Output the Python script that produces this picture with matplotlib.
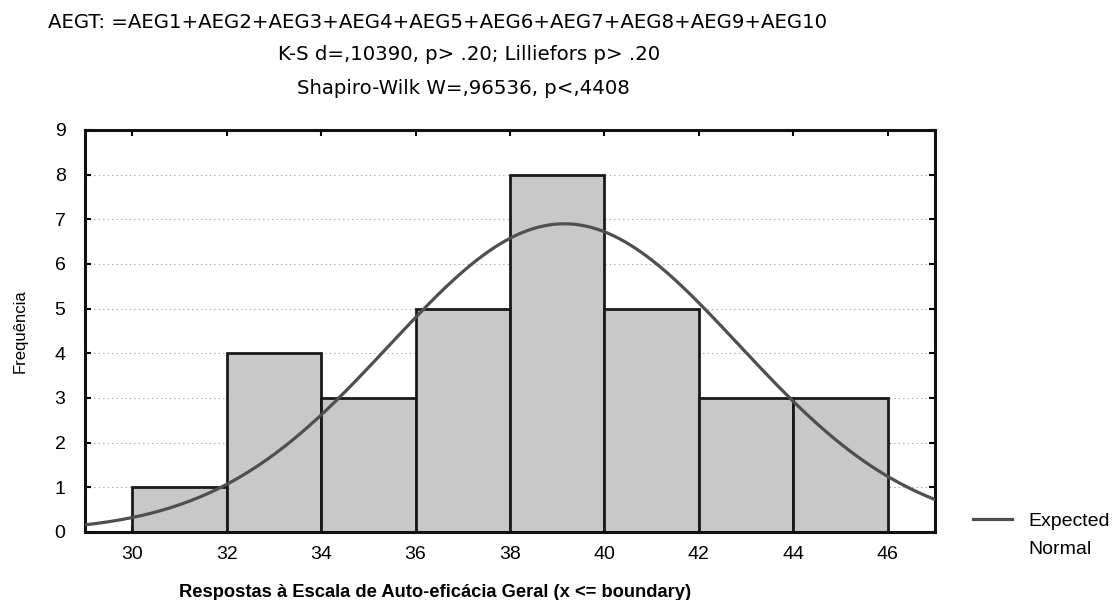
import numpy as np
import matplotlib
matplotlib.use("Agg")
import matplotlib.pyplot as plt

plt.rcParams['font.family'] = ['Liberation Sans', 'DejaVu Sans']

# histogram of AEGT scores (class upper boundaries)
bin_edges = [30, 32, 34, 36, 38, 40, 42, 44, 46]
counts = [1, 4, 3, 5, 8, 5, 3, 3]

# expected normal parameters
n_obs = 32
mean_aegt = 39.15
sd_aegt = 3.7

title_lines = [
    "AEGT: =AEG1+AEG2+AEG3+AEG4+AEG5+AEG6+AEG7+AEG8+AEG9+AEG10",
    "K-S d=,10390, p> .20; Lilliefors p> .20",
    "Shapiro-Wilk W=,96536, p<,4408",
]

fig = plt.figure(figsize=(11.14, 6.0), dpi=100)
ax = fig.add_axes([85 / 1114, 1 - 532 / 600, 850 / 1114, 402 / 600])

lefts = bin_edges[:-1]
widths = np.diff(bin_edges)
ax.bar(lefts, counts, width=widths, align='edge', color='#c8c8c8',
       edgecolor='#1a1a1a', linewidth=2, zorder=2)

bw = widths[0]
xs = np.linspace(29, 47, 300)
ys = n_obs * bw / (sd_aegt * np.sqrt(2 * np.pi)) * np.exp(-0.5 * ((xs - mean_aegt) / sd_aegt) ** 2)
line, = ax.plot(xs, ys, color='#4f4f4f', linewidth=2.3, zorder=3)

ax.set_xlim(29, 47)
ax.set_ylim(0, 9)
ax.set_xticks(range(30, 47, 2))
ax.set_yticks(range(0, 10))
ax.grid(True, axis='y', linestyle=(0, (1, 3)), color='#9a9a9a', linewidth=0.8, zorder=0)
ax.tick_params(direction='in', length=4, width=1.5, top=True, right=True,
               labelsize=14)
ax.tick_params(axis='x', pad=10)
ax.tick_params(axis='y', pad=14)
for s in ax.spines.values():
    s.set_linewidth(2.2)
    s.set_color('#111111')

ax.set_ylabel("Frequência", fontsize=12)
ax.yaxis.set_label_coords(-0.067, 0.5)
ax.set_xlabel("Respostas à Escala de Auto-eficácia Geral (x <= boundary)",
              fontsize=13.2, fontweight='bold')
ax.xaxis.set_label_coords((435 - 85) / 850, -0.13)

title_font = ['DejaVu Sans']
fig.text(437 / 1114, 1 - 22 / 600, title_lines[0], ha='center', va='center',
         fontsize=14.2, family=title_font)
fig.text(469 / 1114, 1 - 55 / 600, title_lines[1], ha='center', va='center',
         fontsize=14.2, family=title_font)
fig.text(463 / 1114, 1 - 88 / 600, title_lines[2], ha='center', va='center',
         fontsize=14.2, family=title_font)

leg = fig.legend([line], ["Expected"], loc='center left',
                 bbox_to_anchor=(973 / 1114, 1 - 521 / 600), frameon=False,
                 fontsize=14, handlelength=2.0, handletextpad=0.85,
                 borderpad=0, borderaxespad=0)
fig.canvas.draw()
bb = leg.get_texts()[0].get_window_extent()
fig.text(bb.x0 / fig.bbox.width, 1 - 549 / 600, "Normal", ha='left', va='center',
         fontsize=14)

fig.savefig("out.png", dpi=100)
